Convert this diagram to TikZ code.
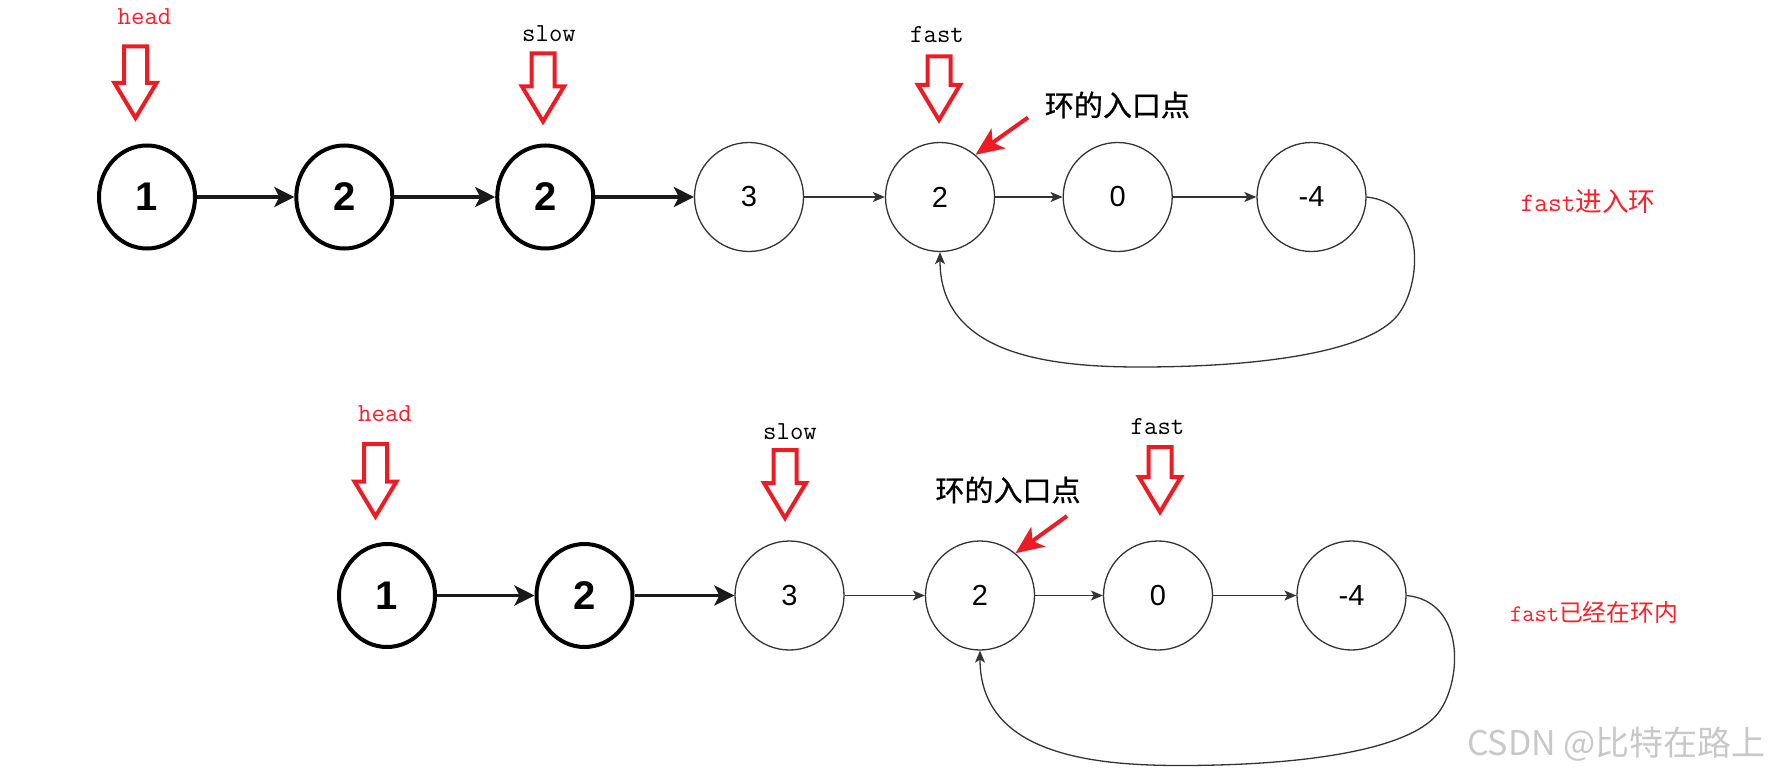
\documentclass[tikz,border=0pt]{standalone}
\usepackage{fontspec}
\setmainfont{Liberation Sans}
\newfontfamily\cjk{Noto Sans CJK SC}
\newfontfamily\cjkm[FakeBold=0.8]{Noto Sans CJK SC}
\usetikzlibrary{arrows.meta,shapes.geometric}
\definecolor{ared}{RGB}{237,28,36}
\definecolor{tred}{RGB}{255,30,40}
\definecolor{lineg}{RGB}{51,51,51}
\definecolor{wm}{RGB}{200,200,200}
\newcommand\blockarrow[3]{%
  \draw[blockarr] ({#1-11.5},#2) -- ({#1+11.5},#2) -- ({#1+11.5},{#3-35}) -- ({#1+21},{#3-35})
    -- (#1,#3) -- ({#1-21},{#3-35}) -- ({#1-11.5},{#3-35}) -- cycle;}
\begin{document}
\begin{tikzpicture}[x=0.5pt,y=-0.5pt,
  boldnode/.style={ellipse,draw=black,line width=2pt,minimum width=48pt,minimum height=51.5pt,inner sep=0pt,font=\fontsize{20pt}{24pt}\selectfont\bfseries},
  thinnode/.style={circle,draw=lineg,line width=0.65pt,minimum size=54.5pt,inner sep=0pt,font=\fontsize{14.5pt}{17pt}\selectfont},
  thickarr/.style={draw=black!90,line width=1.75pt,-{Stealth[length=10pt,width=10pt,inset=2.5pt]}},
  thinarr/.style={draw=lineg,line width=0.65pt,-{Stealth[length=6pt,width=5pt,inset=1.5pt]}},
  blockarr/.style={draw=ared,line width=2pt,line join=miter},
  pointer/.style={draw=ared,line width=2pt,-{Stealth[length=14pt,width=12pt,inset=3.5pt]}},
  redlbl/.style={text=tred,font=\fontsize{13pt}{15pt}\selectfont\ttfamily},
  blklbl/.style={text=black,font=\fontsize{13pt}{15pt}\selectfont\ttfamily},
  entrylbl/.style={font=\fontsize{14.5pt}{17pt}\selectfont\cjkm},
]
\useasboundingbox (0,0) rectangle (1770,775);

% ---------- top row ----------
\node[boldnode] (t1) at (147,197) {1};
\node[boldnode] (t2) at (344.3,197) {2};
\node[boldnode] (t3) at (545.2,197) {2};
\node[thinnode] (t4) at (749,197) {3};
\node[thinnode] (t5) at (940,197) {2};
\node[thinnode] (t6) at (1117.7,197) {0};
\node[thinnode] (t7) at (1311.5,197) {-4};

\draw[thickarr] (t1) -- (t2);
\draw[thickarr] (t2) -- (t3);
\draw[thickarr] (t3) -- (t4);
\draw[thinarr] (t4) -- (t5);
\draw[thinarr] (t5) -- (t6);
\draw[thinarr] (t6) -- (t7);
\draw[thinarr] (t7.east) .. controls (1425,203) and (1422,280) .. (1400,312)
   .. controls (1375,350) and (1270,367) .. (1140,367)
   .. controls (1050,367) and (940,355) .. (t5.south);

\node[redlbl] (thead) at (144.5,17) {head};
\node[blklbl] (tslow) at (549,33.5) {slow};
\node[blklbl] (tfast) at (937,35) {fast};
\blockarrow{135.5}{46.5}{118}
\blockarrow{543}{53.5}{121.5}
\blockarrow{939}{56.5}{120}

\node[entrylbl] (tentry) at (1117.4,105) {环的入口点};
\coordinate (tp) at (1028,117.5);
\draw[pointer] (tp) -- (t5.50);

\node[text=tred,font=\fontsize{13.3pt}{15pt}\selectfont] (tnote) at (1588,202)
  {{\ttfamily fast}{\cjk 进入环}};

% ---------- bottom row ----------
\node[boldnode] (b1) at (387,595.5) {1};
\node[boldnode] (b2) at (584.5,595.5) {2};
\node[thinnode] (b3) at (789.5,595.5) {3};
\node[thinnode] (b4) at (980,595.5) {2};
\node[thinnode] (b5) at (1158,595.5) {0};
\node[thinnode] (b6) at (1351.5,595.5) {-4};

\draw[thickarr] (b1) -- (b2);
\draw[thickarr] (b2) -- (b3);
\draw[thinarr] (b3) -- (b4);
\draw[thinarr] (b4) -- (b5);
\draw[thinarr] (b5) -- (b6);
\draw[thinarr] (b6.east) .. controls (1465,601.5) and (1462,678.5) .. (1440,710.5)
   .. controls (1415,748.5) and (1310,765.5) .. (1180,765.5)
   .. controls (1090,765.5) and (980,753.5) .. (b4.south);

\node[redlbl] (bhead) at (385,414) {head};
\node[blklbl] (bslow) at (790,431.5) {slow};
\node[blklbl] (bfast) at (1157.5,427) {fast};
\blockarrow{375.5}{444}{516.5}
\blockarrow{785}{450}{518}
\blockarrow{1160}{447}{512}

\node[entrylbl] (bentry) at (1008,490) {环的入口点};
\coordinate (bp) at (1067,516);
\draw[pointer] (bp) -- (b4.50);

\node[text=tred,font=\fontsize{11.9pt}{14pt}\selectfont] (bnote) at (1594,612)
  {{\ttfamily fast}{\cjk 已经在环内}};

% watermark
\node[text=wm,font=\fontsize{17pt}{20pt}\selectfont\cjk,anchor=west] (wmark) at (1460,744) {CSDN @比特在路上};
\end{tikzpicture}
\end{document}
